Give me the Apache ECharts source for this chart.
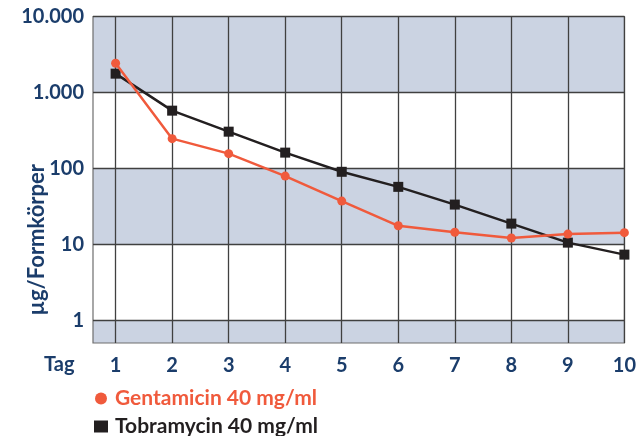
<!DOCTYPE html>
<html><head><meta charset="utf-8">
<script src="https://cdn.jsdelivr.net/npm/echarts@6/dist/echarts.min.js"></script>
<style>html,body{margin:0;padding:0;background:#fff}#c{width:639px;height:436px}</style>
</head><body><div id="c"></div>
<script>
const days = [1, 2, 3, 4, 5, 6, 7, 8, 9, 10];
const gentamicin = [2420, 246, 156, 79, 37, 17.5, 14.4, 12.1, 13.6, 14.2];
const tobramycin = [1766, 575, 304, 161, 90, 57, 33.3, 18.7, 10.5, 7.3];
const yTicks = [1, 10, 100, 1000, 10000];
const bands = [[0.5, 1], [10, 100], [1000, 10000]];
const seriesNames = ['Gentamicin 40 mg/ml', 'Tobramycin 40 mg/ml'];

const navy = '#1b3d6b';
const red = '#f05a3c';
const black = '#231f20';
const font = 'Lato';

const chart = echarts.init(document.getElementById('c'), null, {renderer: 'canvas'});
chart.setOption({
  animation: false,
  textStyle: {fontFamily: font},
  grid: {left: 93, right: 12, top: 16.5, bottom: 93, show: true, borderColor: '#6e6e6e', borderWidth: 1.2, backgroundColor: 'transparent', z: 2},
  xAxis: {
    type: 'value', min: 0.6, max: 10, z: 2,
    axisLine: {show: false}, axisTick: {show: false, customValues: days},
    splitLine: {show: true, lineStyle: {color: '#404040', width: 1.3}},
    axisLabel: {customValues: days, color: navy, fontSize: 20, fontWeight: 'bold', fontFamily: font, margin: 13}
  },
  yAxis: {
    type: 'log', logBase: 10, min: 0.5, max: 10000, z: 2,
    axisLine: {show: false}, axisTick: {show: false, customValues: yTicks},
    splitLine: {show: true, lineStyle: {color: '#404040', width: 1.3}},
    axisLabel: {customValues: yTicks, color: navy, fontSize: 20, fontWeight: 'bold', fontFamily: font, margin: 9,
      formatter: v => Math.round(v).toString().replace(/\B(?=(\d{3})+(?!\d))/g, '.')}
  },
  legend: {
    orient: 'vertical', left: 89, top: 383, height: 60, itemGap: 7, itemWidth: 14, itemHeight: 12,
    textStyle: {fontSize: 21, fontWeight: 'bold', fontFamily: font, padding: [0, 0, 0, 2]},
    data: [
      {name: seriesNames[0], icon: 'circle', textStyle: {color: red}},
      {name: seriesNames[1], icon: 'rect', textStyle: {color: black}}
    ]
  },
  graphic: [
    {type: 'text', left: 26, top: 164, style: {text: 'µg/Formkörper', fill: navy, font: 'bold 22px Lato'}, rotation: Math.PI / 2},
    {type: 'text', left: 44, top: 355, style: {text: 'Tag', fill: navy, font: 'bold 20px Lato'}}
  ],
  series: [
    {
      name: 'bands', type: 'line', data: [], z: 0, silent: true,
      markArea: {silent: true, z: 0, itemStyle: {color: '#cbd3e2'}, data: bands.map(b => [{yAxis: b[0]}, {yAxis: b[1]}])}
    },
    {
      name: seriesNames[0], type: 'line', data: days.map((d, i) => [d, gentamicin[i]]),
      symbol: 'circle', symbolSize: 9, itemStyle: {color: red}, lineStyle: {color: red, width: 2.5}, z: 4
    },
    {
      name: seriesNames[1], type: 'line', data: days.map((d, i) => [d, tobramycin[i]]),
      symbol: 'rect', symbolSize: 10, itemStyle: {color: black}, lineStyle: {color: black, width: 2.5}, z: 3
    }
  ]
});
</script></body></html>
